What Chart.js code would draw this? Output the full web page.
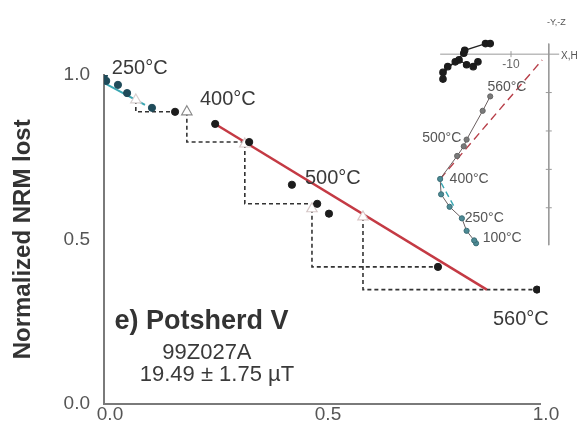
<!DOCTYPE html>
<html>
<head>
<meta charset="utf-8">
<script src="https://cdn.jsdelivr.net/npm/chart.js@4"></script>
<style>
  html, body { margin: 0; padding: 0; background: #fff; }
  #wrap { position: relative; width: 588px; height: 429px; }
  #main { position: absolute; left: 0; top: 0; }
  #zij { position: absolute; left: 400px; top: 0; }
</style>
</head>
<body>
<div id="wrap">
  <canvas id="main" width="588" height="429"></canvas>
  <canvas id="zij" width="188" height="260"></canvas>
</div>
<script>
// Arai plot: pTRM gained (x) vs NRM remaining (y)
const ptrmGained = [0.0, 0.005, 0.032, 0.053, 0.110, 0.163, 0.255, 0.333, 0.431, 0.489, 0.516, 0.766, 0.993];
const nrmRemaining = [1.0, 0.982, 0.970, 0.945, 0.900, 0.888, 0.851, 0.796, 0.666, 0.608, 0.578, 0.416, 0.347];

// pTRM checks and the step each one is tied to
const checkX = [0.073, 0.190, 0.323, 0.477, 0.594];
const checkY = [0.924, 0.888, 0.790, 0.593, 0.568];
const checkStep = [5, 7, 9, 11, 12];

// fitted segments
const redFitX = [0.255, 0.878];
const redFitY = [0.851, 0.347];
const tealFitX = [0.0, 0.094];
const tealFitY = [0.976, 0.909];

const tickValues = [0, 0.5, 1];

// Zijderveld inset (arbitrary units)
const zijHx = [-18.75, -20, -21.75, -23.75, -26.75, -28, -28, -24.75, -22.5, -22.25, -16.75, -15.5];
const zijHy = [-2, -3.25, -2.75, -1.5, -3.25, -6.5, -4.75, -2, 0.25, 1, 2.75, 2.75];
const zijVx = [-19.25, -19.75, -21.75, -23, -26.25, -28.5, -28.75, -24.25, -22.5, -21.75, -17.5, -15.5];
const zijVy = [-49.25, -48.5, -46, -42.75, -39.75, -36.5, -32.5, -26.5, -24, -22.25, -14.75, -11];
const zijRedFit = [[-28.75, -32.5], [-1.75, -1.5]];
const zijTealFit = [[-28.5, -33.5], [-24.75, -40.25]];
const zijYTicks = [-10, -20, -30, -40];

const FONT = "'Liberation Sans', Arial, sans-serif";

// draws free text at data coordinates
const textLabels = {
  id: "textLabels",
  afterDatasetsDraw(chart, args, opts) {
    const ctx = chart.ctx;
    const { x, y } = chart.scales;
    ctx.save();
    opts.items.forEach(it => {
      ctx.font = it.font;
      ctx.fillStyle = it.color || "#333";
      ctx.textAlign = it.align || "left";
      ctx.textBaseline = "middle";
      ctx.fillText(it.text, x.getPixelForValue(it.x), y.getPixelForValue(it.y));
    });
    ctx.restore();
  }
};

const pts = (xs, ys) => xs.map((v, i) => ({ x: v, y: ys[i] }));

const checkLines = checkX.map((cx, i) => {
  const s = checkStep[i];
  return {
    data: [
      { x: cx, y: checkY[i] },
      { x: cx, y: nrmRemaining[s] },
      { x: ptrmGained[s], y: nrmRemaining[s] }
    ],
    showLine: true,
    borderColor: "#333",
    borderWidth: 1.6,
    borderDash: [4, 3],
    pointRadius: 0,
    order: 5
  };
});

new Chart(document.getElementById("main"), {
  type: "scatter",
  data: {
    datasets: [
      ...checkLines,
      {
        data: pts(redFitX, redFitY),
        showLine: true,
        borderColor: "#c43a44",
        borderWidth: 2.5,
        pointRadius: 0,
        order: 4
      },
      {
        data: pts(tealFitX, tealFitY),
        showLine: true,
        borderColor: "#3aa7b3",
        borderWidth: 2,
        pointRadius: 0,
        order: 3
      },
      {
        data: pts(checkX, checkY),
        pointStyle: "triangle",
        pointRadius: 6,
        pointBackgroundColor: "#fff",
        pointBorderColor: ["#d8d0d0", "#8a8a8a", "#d6c8c8", "#d6c8c8", "#dcc6c6"],
        pointBorderWidth: 1.2,
        order: 2
      },
      {
        data: pts(ptrmGained, nrmRemaining),
        pointRadius: 3.6,
        pointBackgroundColor: ctx => ctx.dataIndex < 5 ? "#1f4b5a" : "#1c1c1c",
        pointBorderColor: ctx => ctx.dataIndex < 5 ? "#1f4b5a" : "#1c1c1c",
        order: 1
      }
    ]
  },
  options: {
    responsive: false,
    animation: false,
    layout: { padding: { left: 0, right: 48, top: 75, bottom: 0 } },
    plugins: {
      legend: { display: false },
      tooltip: { enabled: false },
      textLabels: {
        items: [
          { text: "250°C", x: 0.018, y: 1.021, font: "20px " + FONT, color: "#3a3a3a" },
          { text: "400°C", x: 0.220, y: 0.924, font: "20px " + FONT, color: "#3a3a3a" },
          { text: "500°C", x: 0.461, y: 0.684, font: "20px " + FONT, color: "#3a3a3a" },
          { text: "560°C", x: 0.892, y: 0.255, font: "20px " + FONT, color: "#3a3a3a" },
          { text: "e) Potsherd V", x: 0.024, y: 0.249, font: "bold 27px " + FONT, color: "#333" },
          { text: "99Z027A", x: 0.236, y: 0.155, font: "22px " + FONT, color: "#3a3a3a", align: "center" },
          { text: "19.49 ± 1.75 µT", x: 0.259, y: 0.088, font: "22px " + FONT, color: "#3a3a3a", align: "center" }
        ]
      }
    },
    scales: {
      x: {
        type: "linear",
        min: 0,
        max: 1,
        afterBuildTicks: s => { s.ticks = tickValues.map(v => ({ value: v })); },
        afterFit: s => { s.height = 25; },
        grid: { display: false, drawTicks: false },
        border: { color: "#7a7a7a", width: 2 },
        ticks: {
          padding: 0,
          labelOffset: 6,
          color: "#555",
          font: { family: FONT, size: 19 },
          callback: v => v.toFixed(1)
        }
      },
      y: {
        type: "linear",
        min: 0,
        max: 1,
        afterBuildTicks: s => { s.ticks = tickValues.map(v => ({ value: v })); },
        afterFit: s => { s.width = 104; },
        grid: { display: false, drawTicks: false },
        border: { color: "#7a7a7a", width: 2 },
        ticks: {
          padding: 14,
          color: "#555",
          font: { family: FONT, size: 19 },
          callback: v => v.toFixed(1)
        },
        title: {
          display: true,
          text: "Normalized NRM lost",
          color: "#333",
          font: { family: FONT, size: 24, weight: "bold" },
          padding: { top: 9, bottom: 0 }
        }
      }
    }
  },
  plugins: [textLabels]
});

// inset orthogonal vector plot
new Chart(document.getElementById("zij"), {
  type: "scatter",
  data: {
    datasets: [
      {
        data: [{ x: -28.75, y: 0 }, { x: 2.75, y: 0 }],
        showLine: true, borderColor: "#9a9a9a", borderWidth: 1, pointRadius: 0, order: 9
      },
      {
        data: [{ x: 0, y: 2.75 }, { x: 0, y: -49.75 }],
        showLine: true, borderColor: "#9a9a9a", borderWidth: 1, pointRadius: 0, order: 9
      },
      {
        data: zijYTicks.map(v => ({ x: 0, y: v })),
        pointStyle: "line", pointRadius: 3, borderColor: "#9a9a9a", borderWidth: 1, order: 8
      },
      {
        data: [{ x: -10, y: 0 }],
        pointStyle: "line", rotation: 90, pointRadius: 3, borderColor: "#9a9a9a", borderWidth: 1, order: 8
      },
      {
        data: zijRedFit.map(p => ({ x: p[0], y: p[1] })),
        showLine: true, borderColor: "#b8404a", borderWidth: 1.4, borderDash: [8, 5], pointRadius: 0, order: 7
      },
      {
        data: zijTealFit.map(p => ({ x: p[0], y: p[1] })),
        showLine: true, borderColor: "#3aa7b3", borderWidth: 1.4, borderDash: [6, 4], pointRadius: 0, order: 6
      },
      {
        data: pts(zijVx, zijVy),
        showLine: true,
        borderColor: "#6a5f60",
        borderWidth: 1,
        pointRadius: 2.6,
        pointBackgroundColor: ctx => ctx.dataIndex < 7 ? "#4d8a94" : "#7a7a7a",
        pointBorderColor: ctx => ctx.dataIndex < 7 ? "#3c6f78" : "#666",
        order: 2
      },
      {
        data: pts(zijHx, zijHy),
        showLine: true,
        borderColor: "#222",
        borderWidth: 1.2,
        pointRadius: 3.2,
        pointBackgroundColor: "#1c1c1c",
        pointBorderColor: "#1c1c1c",
        order: 1
      }
    ]
  },
  options: {
    responsive: false,
    animation: false,
    layout: { padding: 0 },
    plugins: {
      legend: { display: false },
      tooltip: { enabled: false },
      textLabels: {
        items: [
          { text: "560°C", x: -16.25, y: -8.5, font: "14px " + FONT, color: "#555" },
          { text: "500°C", x: -33.5, y: -21.75, font: "14px " + FONT, color: "#555" },
          { text: "400°C", x: -26.25, y: -32.5, font: "14px " + FONT, color: "#555" },
          { text: "250°C", x: -22.25, y: -42.75, font: "14px " + FONT, color: "#555" },
          { text: "100°C", x: -17.5, y: -48, font: "14px " + FONT, color: "#555" },
          { text: "-10", x: -10, y: -2.75, font: "12px " + FONT, color: "#666", align: "center" },
          { text: "X,H", x: 3.25, y: -0.5, font: "10px " + FONT, color: "#555" },
          { text: "-Y,-Z", x: 2, y: 8.25, font: "9px " + FONT, color: "#555", align: "center" }
        ]
      }
    },
    scales: {
      x: { type: "linear", min: -38, max: 9, display: false },
      y: { type: "linear", min: -52.25, max: 12.75, display: false }
    }
  },
  plugins: [textLabels]
});
</script>
</body>
</html>
